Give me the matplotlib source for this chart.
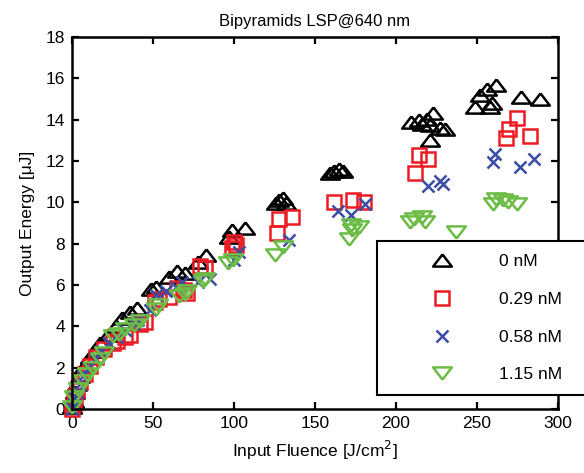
import numpy as np
import matplotlib
matplotlib.use('Agg')
import matplotlib.pyplot as plt

plt.rcParams['font.family'] = ['Liberation Sans', 'DejaVu Sans']

# 0 nM (black, up triangles)
x_0 = [0, 1, 2, 3, 5, 7, 11, 14, 17, 22, 27, 31, 36, 40, 49, 52, 60, 65, 70, 78, 83,
       97, 99, 107, 126, 128, 130, 132, 159, 162, 165, 167,
       209, 214, 216, 219, 221, 223, 221, 230, 227,
       249, 252, 256, 258, 259, 262, 277, 289]
y_0 = [0.1, 0.4, 0.8, 1.2, 1.6, 2.0, 2.5, 2.8, 3.2, 3.6, 4.0, 4.4, 4.7, 4.9, 5.8, 5.9, 6.4, 6.7, 6.6, 7.1, 7.45,
       8.3, 8.65, 8.75, 9.95, 10.1, 10.2, 9.95, 11.4, 11.5, 11.6, 11.5,
       13.9, 14.0, 13.8, 14.05, 13.75, 14.3, 13.0, 13.55, 13.6,
       14.6, 15.2, 15.5, 14.6, 14.8, 15.7, 15.1, 15.0]

# 0.29 nM (red squares)
x_29 = [0, 1, 2, 3, 5, 8, 11, 15, 20, 25, 28, 33, 36, 42, 45, 51, 54, 60, 65, 69, 71,
        79, 82, 99, 100, 101, 126.5, 128, 136, 162, 173.5, 180,
        212, 214, 220, 268, 270, 274.5, 283]
y_29 = [0.0, 0.3, 0.6, 0.9, 1.3, 1.7, 2.1, 2.5, 2.9, 3.2, 3.3, 3.5, 3.6, 4.1, 4.2, 5.2, 5.3, 5.4, 5.85, 5.75, 5.6,
        6.9, 6.8, 7.8, 8.1, 7.95, 8.5, 9.2, 9.3, 10.0, 10.1, 10.0,
        11.4, 12.3, 12.1, 13.1, 13.55, 14.1, 13.2]

# 0.58 nM (blue crosses)
x_58 = [0, 1, 2, 3, 5, 7, 10, 14, 18, 23, 28, 33, 38, 41, 48, 52, 58, 64, 68, 78, 85,
        100, 103, 134, 164, 172.5, 181, 220, 227, 229, 260, 261, 276.5, 285]
y_58 = [0.0, 0.25, 0.55, 0.8, 1.2, 1.6, 2.0, 2.4, 2.8, 3.2, 3.5, 3.8, 4.1, 4.3, 4.8, 5.5, 5.7, 5.9, 6.15, 6.15, 6.3,
        7.2, 7.6, 8.2, 9.6, 9.4, 9.9, 10.8, 11.05, 10.9, 11.95, 12.35, 11.7, 12.1]

# 1.15 nM (green down triangles)
x_115 = [0, 1, 4, 7, 9, 13, 17, 20, 25, 29, 33, 38, 42, 52, 53, 66, 70, 71, 81, 82,
         96, 99.5, 125, 130, 171, 173, 172.5, 177, 208.6, 211, 216, 218, 237,
         260, 262, 266, 269, 274.5]
y_115 = [0.1, 0.6, 0.95, 1.35, 1.7, 2.0, 2.4, 2.7, 3.55, 3.65, 3.85, 4.05, 4.25, 4.85, 5.05, 5.45, 5.55, 5.7, 6.2, 6.3,
         7.05, 7.2, 7.45, 7.85, 8.25, 8.65, 8.9, 8.8, 9.05, 9.2, 9.3, 9.05, 8.55,
         9.9, 10.15, 10.1, 10.0, 9.9]

labels = ['0 nM', '0.29 nM', '0.58 nM', '1.15 nM']

# flatter triangles like the matlab ones
tri_up = [(0, 0.65), (-1, -0.65), (1, -0.65), (0, 0.65)]
tri_dn = [(0, -0.65), (-1, 0.65), (1, 0.65), (0, -0.65)]

fig = plt.figure(figsize=(5.84, 4.73), dpi=100)
ax = fig.add_axes([72 / 584, 1 - 409 / 473, 486 / 584, 372 / 473])

kw = dict(linestyle='none', markerfacecolor='none', clip_on=False, markeredgewidth=1.8)
ax.plot(x_0, y_0, marker=tri_up, markersize=13.5, color='black', label=labels[0], **kw)
ax.plot(x_29, y_29, marker='s', markersize=10, color='#ec1c24', label=labels[1], **kw)
ax.plot(x_58, y_58, marker='x', markersize=8.5, color='#3b4ea3', label=labels[2], **kw)
ax.plot(x_115, y_115, marker=tri_dn, markersize=13.5, color='#6cbd45', label=labels[3], **kw)

ax.set_xlim(0, 300)
ax.set_ylim(0, 18)
ax.set_xticks(np.arange(0, 301, 50))
ax.set_yticks(np.arange(0, 19, 2))
ax.tick_params(direction='in', length=5, width=1.6, top=True, right=True, labelsize=12.5, pad=5)
for s in ax.spines.values():
    s.set_linewidth(1.8)

ax.set_title('Bipyramids LSP@640 nm', fontsize=12, pad=8)
ax.set_xlabel('Input Fluence [J/cm$^2$]', fontsize=12.5, labelpad=6)
ax.set_ylabel('Output Energy [\u03bcJ]', fontsize=12.5, labelpad=8)

# legend box runs off the right edge of the figure, as in the original
leg = ax.legend(loc='upper left', bbox_to_anchor=((377 - 72) / 486, 0.0, 0.5, (409 - 241) / 372),
                mode='expand', fontsize=12.5, frameon=True, fancybox=False, framealpha=1,
                borderpad=0.75, handlelength=6.0, handletextpad=0.3, labelspacing=1.3,
                borderaxespad=0)
leg.get_frame().set_edgecolor('black')
leg.get_frame().set_linewidth(1.5)

fig.savefig('out.png', dpi=100)
